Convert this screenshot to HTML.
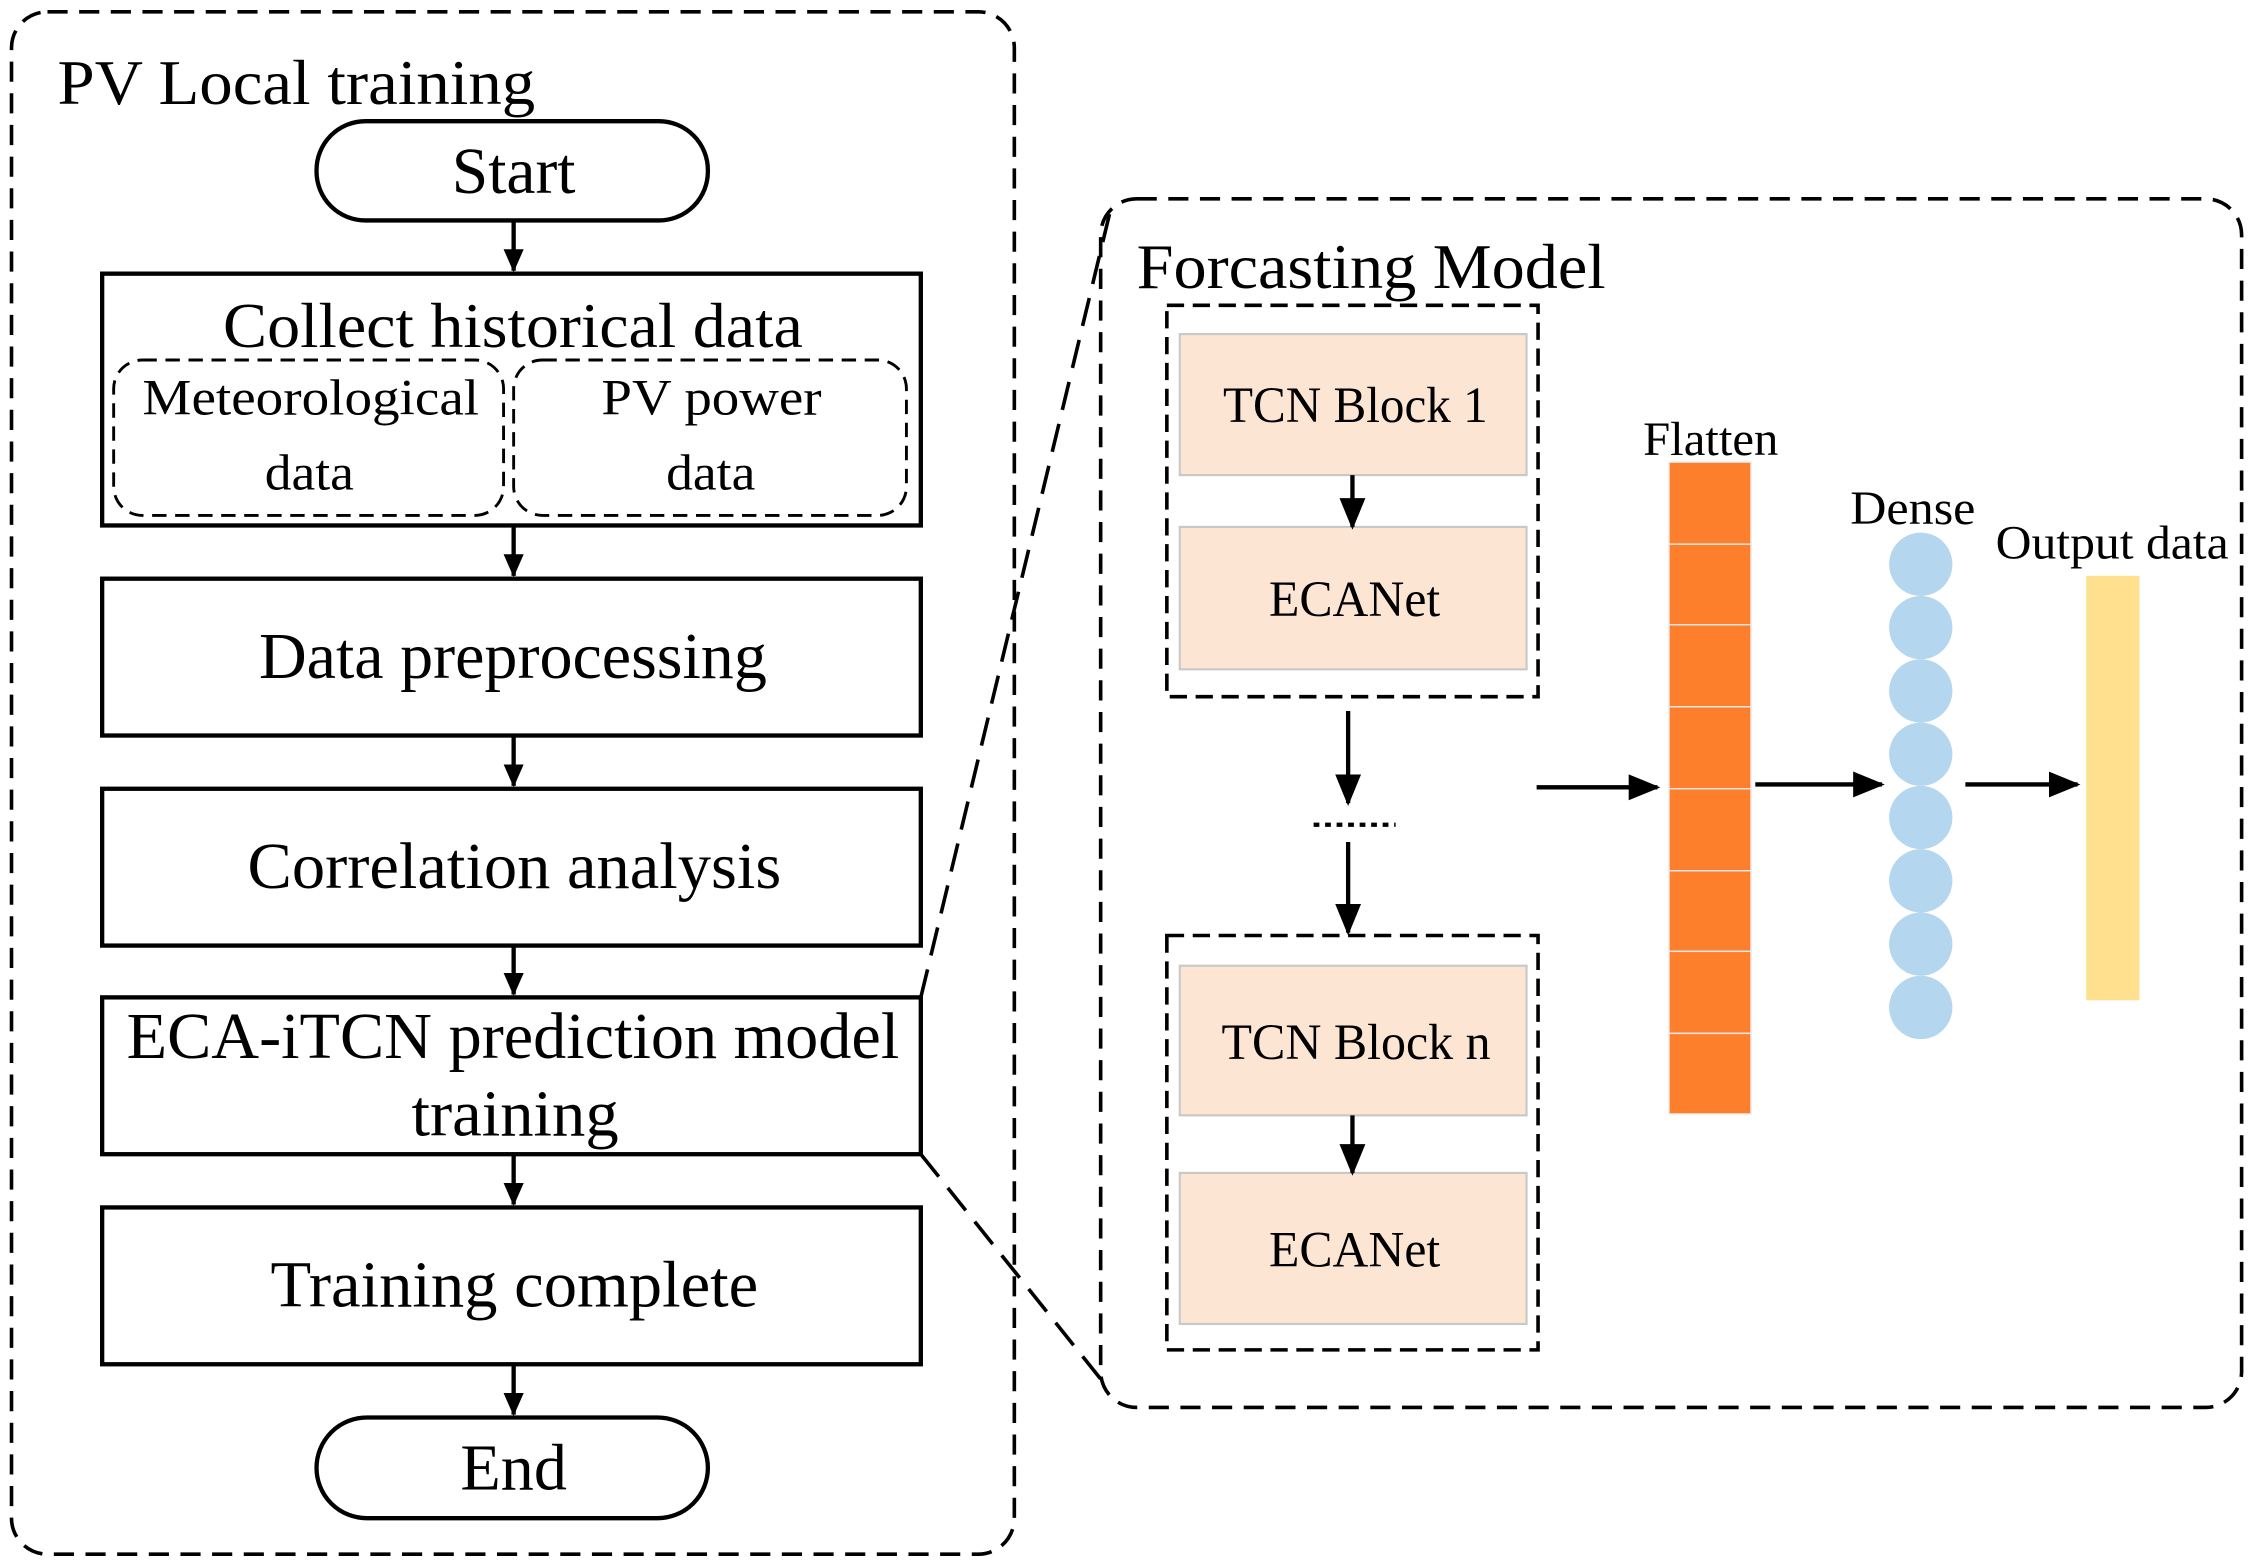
<!DOCTYPE html>
<html><head><meta charset="utf-8"><style>
html,body{margin:0;padding:0;background:#fff;}
svg{display:block;}
text{font-family:"Liberation Serif",serif;fill:#000;}
</style></head><body>
<svg width="2256" height="1566" viewBox="0 0 1568 1088" xmlns="http://www.w3.org/2000/svg">
<defs>
<marker id="a" markerWidth="16" markerHeight="16" refX="15" refY="8" orient="auto" markerUnits="userSpaceOnUse" viewBox="0 0 16 16">
<path d="M0,1 L16,8 L0,15 z" fill="#000"/></marker>
<marker id="b" markerWidth="22" markerHeight="22" refX="20" refY="11" orient="auto" markerUnits="userSpaceOnUse" viewBox="0 0 22 22">
<path d="M0,2 L22,11 L0,20 z" fill="#000"/></marker>
</defs>
<rect width="1568" height="1088" fill="#fff"/>
<rect x="8" y="8" width="697" height="1072" rx="25" fill="none" stroke="#000" stroke-width="2.5" stroke-dasharray="14,8"/>
<g lengthAdjust="spacingAndGlyphs">
<text x="40" y="72" font-size="44" textLength="332" lengthAdjust="spacingAndGlyphs">PV Local training</text>
<text x="314" y="134" font-size="46" textLength="86" lengthAdjust="spacingAndGlyphs">Start</text>
</g>
<rect x="220" y="84" width="272" height="69" rx="34" fill="none" stroke="#000" stroke-width="3"/>
<g stroke="#000" stroke-width="3" fill="none">
<line x1="357" y1="153" x2="357" y2="188" marker-end="url(#a)"/>
<line x1="357" y1="365" x2="357" y2="400" marker-end="url(#a)"/>
<line x1="357" y1="511" x2="357" y2="546" marker-end="url(#a)"/>
<line x1="357" y1="657" x2="357" y2="691" marker-end="url(#a)"/>
<line x1="357" y1="802" x2="357" y2="837" marker-end="url(#a)"/>
<line x1="357" y1="948" x2="357" y2="983" marker-end="url(#a)"/>
<rect x="71" y="190" width="569" height="175"/>
<rect x="71" y="402" width="569" height="109"/>
<rect x="71" y="548" width="569" height="109"/>
<rect x="71" y="693" width="569" height="109"/>
<rect x="71" y="839" width="569" height="109"/>
</g>
<g stroke="#000" stroke-width="2" fill="none" stroke-dasharray="10,6">
<rect x="79" y="250" width="271" height="108" rx="20"/>
<rect x="357" y="250" width="273" height="108" rx="20"/>
</g>
<text x="155" y="241" font-size="44" textLength="403" lengthAdjust="spacingAndGlyphs">Collect historical data</text>
<text x="99" y="288" font-size="35" textLength="234" lengthAdjust="spacingAndGlyphs">Meteorological</text>
<text x="184" y="340" font-size="35" textLength="62" lengthAdjust="spacingAndGlyphs">data</text>
<text x="418" y="288" font-size="35" textLength="153" lengthAdjust="spacingAndGlyphs">PV power</text>
<text x="463" y="340" font-size="35" textLength="62" lengthAdjust="spacingAndGlyphs">data</text>
<text x="180" y="471" font-size="46" textLength="353" lengthAdjust="spacingAndGlyphs">Data preprocessing</text>
<text x="172" y="617" font-size="46" textLength="371" lengthAdjust="spacingAndGlyphs">Correlation analysis</text>
<text x="88" y="735" font-size="46" textLength="537" lengthAdjust="spacingAndGlyphs">ECA-iTCN prediction model</text>
<text x="286" y="789" font-size="46" textLength="144" lengthAdjust="spacingAndGlyphs">training</text>
<text x="188" y="908" font-size="46" textLength="339" lengthAdjust="spacingAndGlyphs">Training complete</text>
<rect x="220" y="985" width="272" height="70" rx="35" fill="none" stroke="#000" stroke-width="3"/>
<text x="320" y="1035" font-size="46" textLength="74" lengthAdjust="spacingAndGlyphs">End</text>
<g stroke="#000" stroke-width="2.5" stroke-dasharray="20,10" fill="none">
<line x1="640" y1="693" x2="772" y2="145"/>
<line x1="640" y1="802" x2="768" y2="962"/>
</g>
<rect x="765" y="138" width="793" height="840" rx="25" fill="none" stroke="#000" stroke-width="2.5" stroke-dasharray="14,8"/>
<text x="790" y="200" font-size="44" textLength="326" lengthAdjust="spacingAndGlyphs">Forcasting Model</text>
<g stroke="#000" stroke-width="2.5" fill="none" stroke-dasharray="12,6">
<rect x="811" y="212" width="258" height="272"/>
<rect x="811" y="650" width="258" height="288"/>
</g>
<g fill="#fde5d4" stroke="#c8c8c8" stroke-width="1.5">
<rect x="820" y="232" width="241" height="98"/>
<rect x="820" y="366" width="241" height="99"/>
<rect x="820" y="671" width="241" height="104"/>
<rect x="820" y="815" width="241" height="105"/>
</g>
<text x="850" y="293" font-size="35" textLength="184" lengthAdjust="spacingAndGlyphs">TCN Block 1</text>
<text x="882" y="428" font-size="35" textLength="119" lengthAdjust="spacingAndGlyphs">ECANet</text>
<text x="849" y="736" font-size="35" textLength="187" lengthAdjust="spacingAndGlyphs">TCN Block n</text>
<text x="882" y="880" font-size="35" textLength="119" lengthAdjust="spacingAndGlyphs">ECANet</text>
<g stroke="#000" stroke-width="3" fill="none">
<line x1="940" y1="330" x2="940" y2="366" marker-end="url(#b)"/>
<line x1="940" y1="775" x2="940" y2="815" marker-end="url(#b)"/>
<line x1="937" y1="494" x2="937" y2="558" marker-end="url(#b)"/>
<line x1="937" y1="585" x2="937" y2="648" marker-end="url(#b)"/>
<line x1="913" y1="573" x2="970" y2="573" stroke-dasharray="4,4"/>
<line x1="1068" y1="547" x2="1152" y2="547" marker-end="url(#b)"/>
<line x1="1220" y1="545" x2="1308" y2="545" marker-end="url(#b)"/>
<line x1="1366" y1="545" x2="1444" y2="545" marker-end="url(#b)"/>
</g>
<text x="1142" y="316" font-size="33" textLength="94" lengthAdjust="spacingAndGlyphs">Flatten</text>
<g fill="#fd7f2c" stroke="#e8e8e8" stroke-width="1">
<rect x="1160" y="321" width="57" height="57"/>
<rect x="1160" y="378" width="57" height="56"/>
<rect x="1160" y="434" width="57" height="57"/>
<rect x="1160" y="491" width="57" height="57"/>
<rect x="1160" y="548" width="57" height="57"/>
<rect x="1160" y="605" width="57" height="56"/>
<rect x="1160" y="661" width="57" height="57"/>
<rect x="1160" y="718" width="57" height="56"/>
</g>
<text x="1286" y="364" font-size="33" textLength="87" lengthAdjust="spacingAndGlyphs">Dense</text>
<g fill="#b4d6ee">
<circle cx="1335" cy="392" r="22"/>
<circle cx="1335" cy="436" r="22"/>
<circle cx="1335" cy="480" r="22"/>
<circle cx="1335" cy="524" r="22"/>
<circle cx="1335" cy="568" r="22"/>
<circle cx="1335" cy="612" r="22"/>
<circle cx="1335" cy="656" r="22"/>
<circle cx="1335" cy="700" r="22"/>
</g>
<text x="1387" y="388" font-size="33" textLength="162" lengthAdjust="spacingAndGlyphs">Output data</text>
<rect x="1450" y="400" width="37" height="295" fill="#fee08e"/>
</svg>
</body></html>
